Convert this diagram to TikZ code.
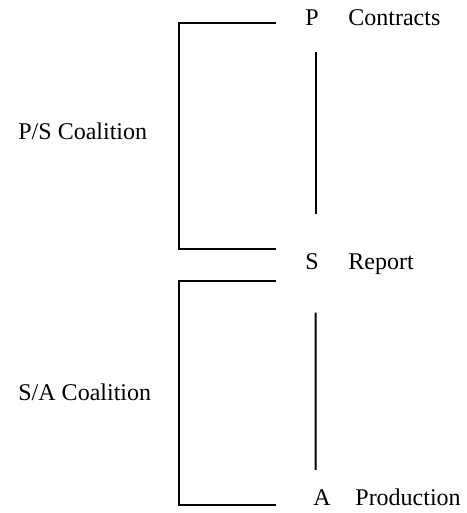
\documentclass[tikz,border=0pt]{standalone}
\usepackage{fontspec}
\setmainfont{Liberation Serif}
\usetikzlibrary{calc,positioning}
\definecolor{ChainInk}{HTML}{000000}
\tikzset{
  every node/.style={font=\fontsize{12}{14}\selectfont, text=ChainInk, inner sep=0pt, anchor=base west},
  bracket/.style={draw=ChainInk, line width=1pt},
  link/.style={draw=ChainInk, line width=1pt},
}
\begin{document}
\begin{tikzpicture}[x=0.5pt,y=-0.5pt]
  \useasboundingbox (0,0) rectangle (466,513);

  % Chain members and their tasks
  \node (p) at (305,26) {P};
  \node (pTask) at (348,26) {Contracts};
  \node (s) at (305,269) {S};
  \node (sTask) at (348,269) {Report};
  \node (a) at (313,505) {A};
  \node (aTask) at (355,505) {Production};

  % Links between members
  \draw[link] ($(p.south)+(3.5,26)$) -- ($(s.north)+(3.5,-39)$);
  \draw[link] ($(s.south)+(3.5,43)$) -- ($(a.north)+(-6.5,-19)$);

  % Coalition brackets
  \draw[bracket] (276,23) -| (179,249) -- (276,249);
  \node (psCoal) at (18,140) {P/S Coalition};
  \draw[bracket] (276,281) -| (179,505) -- (276,505);
  \node (saCoal) at (18,400) {S/A Coalition};
\end{tikzpicture}
\end{document}
